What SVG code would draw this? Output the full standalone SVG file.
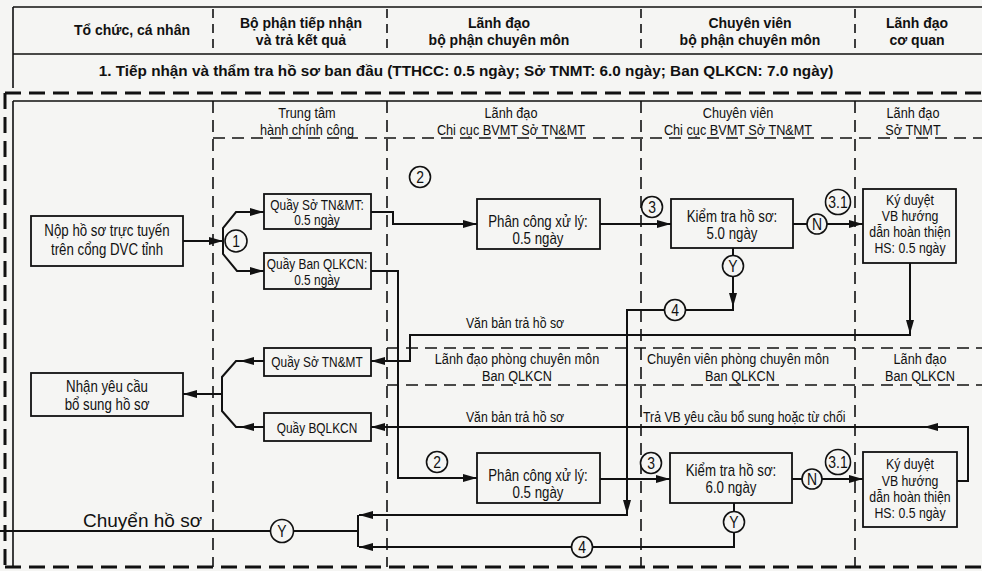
<svg xmlns="http://www.w3.org/2000/svg" width="982" height="571" viewBox="0 0 982 571">
<defs>
<marker id="ah" markerWidth="14" markerHeight="8" refX="14" refY="4" orient="auto" markerUnits="userSpaceOnUse"><path d="M0,0 L14,4 L0,8 z" fill="#111"/></marker>
<style>
.bg{fill:#f5f5f3}
.sl{stroke:#111;stroke-width:1.6;fill:none}
.od{stroke:#111;stroke-width:3;fill:none;stroke-dasharray:16 8}
.dl{stroke:#111;stroke-width:1.6;fill:none;stroke-dasharray:12 7}
.hd{stroke:#111;stroke-width:1.6;fill:none;stroke-dasharray:9 6}
.box{fill:none;stroke:#111;stroke-width:1.8}
.cn{stroke:#111;stroke-width:2;fill:none}
.ci{fill:#f5f5f3;stroke:#111;stroke-width:1.6}
text{fill:#111}
.h{font-family:"Liberation Sans",Arial,sans-serif;font-weight:bold;font-size:14px;text-anchor:middle}
.ttl{font-size:15.3px}
.n{font-family:"Liberation Sans",Arial,sans-serif;text-anchor:middle}
.s{font-size:15.5px}
.q{font-size:14.5px}
.b{font-size:16.2px}
.k{font-size:15px}
.c{font-size:17px}
.w{font-family:"Liberation Sans",Arial,sans-serif;font-size:19px}
</style>
</defs>
<rect class="bg" x="0" y="0" width="982" height="571"/>

<g id="frame">
<path class="sl" d="M13,7 H982 M13,7 V88 M13,54 H982 M13,101 H982 M13,101 V567"/>
<path class="od" d="M5,93 H982 M5,93 V567 M5,567 H982"/>
<path class="hd" d="M213,9 V54 M387,9 V54 M641,9 V54 M855,9 V54"/>
<path class="dl" d="M213,101 V567 M387,101 V567 M641,101 V567 M855,101 V567"/>
<path class="dl" d="M213,138 H982 M387,348 H982 M387,385 H982"/>
</g>

<g id="header">
<text class="h" x="132" y="35">Tổ chức, cá nhân</text>
<text class="h" x="301" y="28">Bộ phận tiếp nhận</text>
<text class="h" x="301" y="45">và trả kết quả</text>
<text class="h" x="499" y="28">Lãnh đạo</text>
<text class="h" x="499" y="45">bộ phận chuyên môn</text>
<text class="h" x="750" y="28">Chuyên viên</text>
<text class="h" x="750" y="45">bộ phận chuyên môn</text>
<text class="h" x="917" y="28">Lãnh đạo</text>
<text class="h" x="917" y="45">cơ quan</text>
<text class="h ttl" x="466" y="76">1. Tiếp nhận và thẩm tra hồ sơ ban đầu (TTHCC: 0.5 ngày; Sở TNMT: 6.0 ngày; Ban QLKCN: 7.0 ngày)</text>
</g>

<g id="lanes">
<text class="n s" transform="translate(307,118) scale(0.82,1)">Trung tâm</text>
<text class="n s" transform="translate(307,135) scale(0.82,1)">hành chính công</text>
<text class="n s" transform="translate(511,118) scale(0.82,1)">Lãnh đạo</text>
<text class="n s" transform="translate(511,135) scale(0.82,1)">Chi cục BVMT Sở TN&amp;MT</text>
<text class="n s" transform="translate(738,118) scale(0.82,1)">Chuyên viên</text>
<text class="n s" transform="translate(738,135) scale(0.82,1)">Chi cục BVMT Sở TN&amp;MT</text>
<text class="n s" transform="translate(913,118) scale(0.82,1)">Lãnh đạo</text>
<text class="n s" transform="translate(913,135) scale(0.82,1)">Sở TNMT</text>
<text class="n s" transform="translate(517,364) scale(0.82,1)">Lãnh đạo phòng chuyên môn</text>
<text class="n s" transform="translate(517,381) scale(0.82,1)">Ban QLKCN</text>
<text class="n s" transform="translate(738,364) scale(0.82,1)">Chuyên viên phòng chuyên môn</text>
<text class="n s" transform="translate(740,381) scale(0.82,1)">Ban QLKCN</text>
<text class="n s" transform="translate(920,364) scale(0.82,1)">Lãnh đạo</text>
<text class="n s" transform="translate(920,381) scale(0.82,1)">Ban QLKCN</text>
</g>

<g id="connectors">
<path class="cn" d="M183,241 H223" marker-end="url(#ah)"/>
<path class="cn" d="M223,241 V228 L236,212 H264" marker-end="url(#ah)"/>
<path class="cn" d="M223,241 V254 L237,271 H264" marker-end="url(#ah)"/>
<path class="cn" d="M371,212 H393 V224 H477" marker-end="url(#ah)"/>
<path class="cn" d="M600,224 H671" marker-end="url(#ah)"/>
<path class="cn" d="M793,224 H807"/>
<path class="cn" d="M827,224 H863" marker-end="url(#ah)"/>
<path class="cn" d="M733,248 V256"/>
<path class="cn" d="M733,276 V310 H686"/>
<path class="cn" d="M733,290 V307" marker-end="url(#ah)"/>
<path class="cn" d="M664,310 H627 V515 H359" marker-end="url(#ah)"/>
<path class="cn" d="M627,498 V514" marker-end="url(#ah)"/>
<path class="cn" d="M910,263 V335 H410 V361 H371" marker-end="url(#ah)"/>
<path class="cn" d="M910,318 V334" marker-end="url(#ah)"/>
<path class="cn" d="M371,271 H398 V478 H477" marker-end="url(#ah)"/>
<path class="cn" d="M600,479 H670" marker-end="url(#ah)"/>
<path class="cn" d="M792,479 H802"/>
<path class="cn" d="M822,479 H863" marker-end="url(#ah)"/>
<path class="cn" d="M957,481 H968 V427 H371" marker-end="url(#ah)"/>
<path class="cn" d="M945,427 H924" marker-end="url(#ah)"/>
<path class="cn" d="M734,503 V512"/>
<path class="cn" d="M734,533 V547 H593"/>
<path class="cn" d="M571,547 H359" marker-end="url(#ah)"/>
<path class="cn" d="M358,515 V547 M358,531 H293"/>
<path class="cn" d="M271,531 H0"/>
<path class="cn" d="M264,361 H236 L222,377 V411 L236,427 H264"/>
<path class="cn" d="M258,361 H240" marker-end="url(#ah)"/>
<path class="cn" d="M258,427 H240" marker-end="url(#ah)"/>
<path class="cn" d="M222,394 H183" marker-end="url(#ah)"/>
<text class="n k" transform="translate(515,328) scale(0.82,1)">Văn bản trả hồ sơ</text>
<text class="n k" transform="translate(515,422) scale(0.82,1)">Văn bản trả hồ sơ</text>
<text class="n k" transform="translate(643,422) scale(0.82,1)" style="text-anchor:start">Trả VB yêu cầu bổ sung hoặc từ chối</text>
<text class="w" x="83" y="527">Chuyển hồ sơ</text>
</g>

<g id="markers">
<circle class="ci" cx="236" cy="241" r="11"/><text class="n c" transform="translate(236,247) scale(0.82,1)">1</text>
<circle class="ci" cx="420" cy="177" r="10.5"/><text class="n c" transform="translate(420,183) scale(0.82,1)">2</text>
<circle class="ci" cx="652" cy="207" r="10.5"/><text class="n c" transform="translate(652,213) scale(0.82,1)">3</text>
<circle class="ci" cx="817" cy="224" r="10"/><text class="n c" transform="translate(817,230) scale(0.82,1)">N</text>
<circle class="ci" cx="838" cy="202" r="12.5"/><text class="n c" transform="translate(838,208) scale(0.82,1)">3.1</text>
<circle class="ci" cx="733" cy="266" r="10.5"/><text class="n c" transform="translate(733,272) scale(0.82,1)">Y</text>
<circle class="ci" cx="675" cy="310" r="10.5"/><text class="n c" transform="translate(675,316) scale(0.82,1)">4</text>
<circle class="ci" cx="437" cy="462" r="10.5"/><text class="n c" transform="translate(437,468) scale(0.82,1)">2</text>
<circle class="ci" cx="651" cy="463" r="10.5"/><text class="n c" transform="translate(651,469) scale(0.82,1)">3</text>
<circle class="ci" cx="812" cy="479" r="10"/><text class="n c" transform="translate(812,485) scale(0.82,1)">N</text>
<circle class="ci" cx="838" cy="462" r="12.5"/><text class="n c" transform="translate(838,468) scale(0.82,1)">3.1</text>
<circle class="ci" cx="734" cy="522" r="10.5"/><text class="n c" transform="translate(734,528) scale(0.82,1)">Y</text>
<circle class="ci" cx="582" cy="547" r="10.5"/><text class="n c" transform="translate(582,553) scale(0.82,1)">4</text>
<circle class="ci" cx="282" cy="531" r="11.5"/><text class="n c" transform="translate(282,537) scale(0.82,1)">Y</text>
</g>

<g id="n-nop"><rect class="box" x="31" y="216" width="152" height="50"/>
<text class="n b" transform="translate(107,236) scale(0.82,1)">Nộp hồ sơ trực tuyến</text><text class="n b" transform="translate(107,255) scale(0.82,1)">trên cổng DVC tỉnh</text></g>
<g id="n-quay-so1"><rect class="box" x="264" y="194" width="107" height="35"/>
<text class="n q" transform="translate(317,210) scale(0.82,1)">Quầy Sở TN&amp;MT:</text><text class="n q" transform="translate(317,225) scale(0.82,1)">0.5 ngày</text></g>
<g id="n-quay-ban1"><rect class="box" x="264" y="253" width="107" height="36"/>
<text class="n q" transform="translate(317,269) scale(0.82,1)">Quầy Ban QLKCN:</text><text class="n q" transform="translate(317,284.5) scale(0.82,1)">0.5 ngày</text></g>
<g id="n-phancong1"><rect class="box" x="477" y="199" width="123" height="50"/>
<text class="n b" transform="translate(538,226.5) scale(0.82,1)">Phân công xử lý:</text><text class="n b" transform="translate(538,243.5) scale(0.82,1)">0.5 ngày</text></g>
<g id="n-kiemtra1"><rect class="box" x="671" y="199" width="122" height="49"/>
<text class="n b" transform="translate(732,222) scale(0.82,1)">Kiểm tra hồ sơ:</text><text class="n b" transform="translate(732,238.5) scale(0.82,1)">5.0 ngày</text></g>
<g id="n-kyduyet1"><rect class="box" x="863" y="189" width="93" height="74"/>
<text class="n k" transform="translate(910,205) scale(0.82,1)">Ký duyệt</text><text class="n k" transform="translate(910,221) scale(0.82,1)">VB hướng</text>
<text class="n k" transform="translate(910,237) scale(0.82,1)">dẫn hoàn thiện</text><text class="n k" transform="translate(910,253) scale(0.82,1)">HS: 0.5 ngày</text></g>
<g id="n-quay-so2"><rect class="box" x="264" y="348" width="107" height="28"/>
<text class="n q" transform="translate(317,366.5) scale(0.82,1)">Quầy Sở TN&amp;MT</text></g>
<g id="n-quay-ban2"><rect class="box" x="264" y="413" width="107" height="28"/>
<text class="n q" transform="translate(317,432.5) scale(0.82,1)">Quầy BQLKCN</text></g>
<g id="n-nhan"><rect class="box" x="31" y="373" width="152" height="43"/>
<text class="n b" transform="translate(107,392) scale(0.82,1)">Nhận yêu cầu</text><text class="n b" transform="translate(107,410) scale(0.82,1)">bổ sung hồ sơ</text></g>
<g id="n-phancong2"><rect class="box" x="477" y="453" width="123" height="50"/>
<text class="n b" transform="translate(538,480.5) scale(0.82,1)">Phân công xử lý:</text><text class="n b" transform="translate(538,497.5) scale(0.82,1)">0.5 ngày</text></g>
<g id="n-kiemtra2"><rect class="box" x="670" y="453" width="122" height="50"/>
<text class="n b" transform="translate(731,476) scale(0.82,1)">Kiểm tra hồ sơ:</text><text class="n b" transform="translate(731,492.5) scale(0.82,1)">6.0 ngày</text></g>
<g id="n-kyduyet2"><rect class="box" x="863" y="452" width="94" height="75"/>
<text class="n k" transform="translate(910,469) scale(0.82,1)">Ký duyệt</text><text class="n k" transform="translate(910,486) scale(0.82,1)">VB hướng</text>
<text class="n k" transform="translate(910,502) scale(0.82,1)">dẫn hoàn thiện</text><text class="n k" transform="translate(910,518) scale(0.82,1)">HS: 0.5 ngày</text></g>
</svg>
